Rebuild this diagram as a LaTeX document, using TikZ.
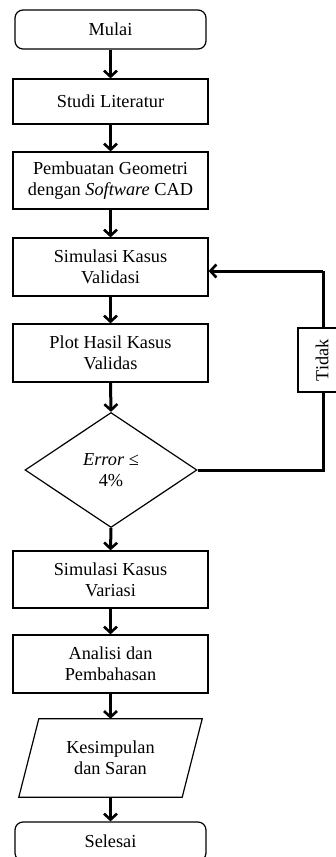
\documentclass[tikz,border=0pt]{standalone}
\usepackage{fontspec}
\setmainfont{Liberation Serif}
\usetikzlibrary{shapes.geometric,arrows.meta}
\begin{document}
\begin{tikzpicture}[x=1pt,y=-1pt,
  every node/.style={font=\fontsize{18.3}{21}\selectfont, align=center, inner sep=0pt},
  procbox/.style={draw, line width=1.2pt, minimum width=195, minimum height=58},
  termbox/.style={draw, line width=1.2pt, rounded corners=8pt, minimum width=191, minimum height=39},
  arr/.style={line width=3pt, -{Straight Barb[length=6pt,width=13pt,line width=2.6pt]}},
  fline/.style={line width=3pt}
]
\useasboundingbox (0,0) rectangle (336,857);
\node[termbox] (mulai) at (110.5,29.5) {Mulai};
\node[procbox, minimum height=45] (studi) at (110.5,101.5) {Studi Literatur};
\node[procbox, minimum height=57] (geo) at (110.5,180.5) {Pembuatan Geometri\\dengan \textit{Software} CAD};
\node[procbox] (sim) at (110.5,267) {Simulasi Kasus\\Validasi};
\node[procbox] (plot) at (110.5,353) {Plot Hasil Kasus\\Validas};
\node[diamond, draw, line width=1.2pt, minimum width=172, minimum height=115, aspect=1.5] (dia) at (111,470) {\textit{Error} ≤\\4\%};
\node[procbox, minimum height=57] (var) at (110.5,579.5) {Simulasi Kasus\\Variasi};
\node[procbox] (ana) at (110.5,664) {Analisi dan\\Pembahasan};
\node[minimum width=183, minimum height=78] (kes) at (110.5,758) {Kesimpulan\\dan Saran};
\draw[line width=1.2pt] ([xshift=20pt]kes.north west) -- (kes.north east) -- ([xshift=-20pt]kes.south east) -- (kes.south west) -- cycle;
\node[termbox] (sel) at (110.5,841.5) {Selesai};

\draw[arr] (mulai) -- (studi);
\draw[arr] (studi) -- (geo);
\draw[arr] (geo) -- (sim);
\draw[arr] (sim) -- (plot);
\draw[arr] (plot.south) -- (dia.north);
\draw[arr] (dia.south) -- (var.north);
\draw[arr] (var) -- (ana);
\draw[arr] (ana.south) -- (kes.north);
\draw[arr] (kes.south) -- (sel.north);

\coordinate (c1) at (323,470);
\coordinate (c2) at (323,271);
\draw[fline] (dia.east) -- (c1) -- (c2);
\draw[arr] (c2) -- (sim.east |- c2);
\node[draw, fill=white, line width=1.2pt, rotate=90, minimum width=64, minimum height=48] (tidak) at (322,360) {Tidak};
\end{tikzpicture}
\end{document}
